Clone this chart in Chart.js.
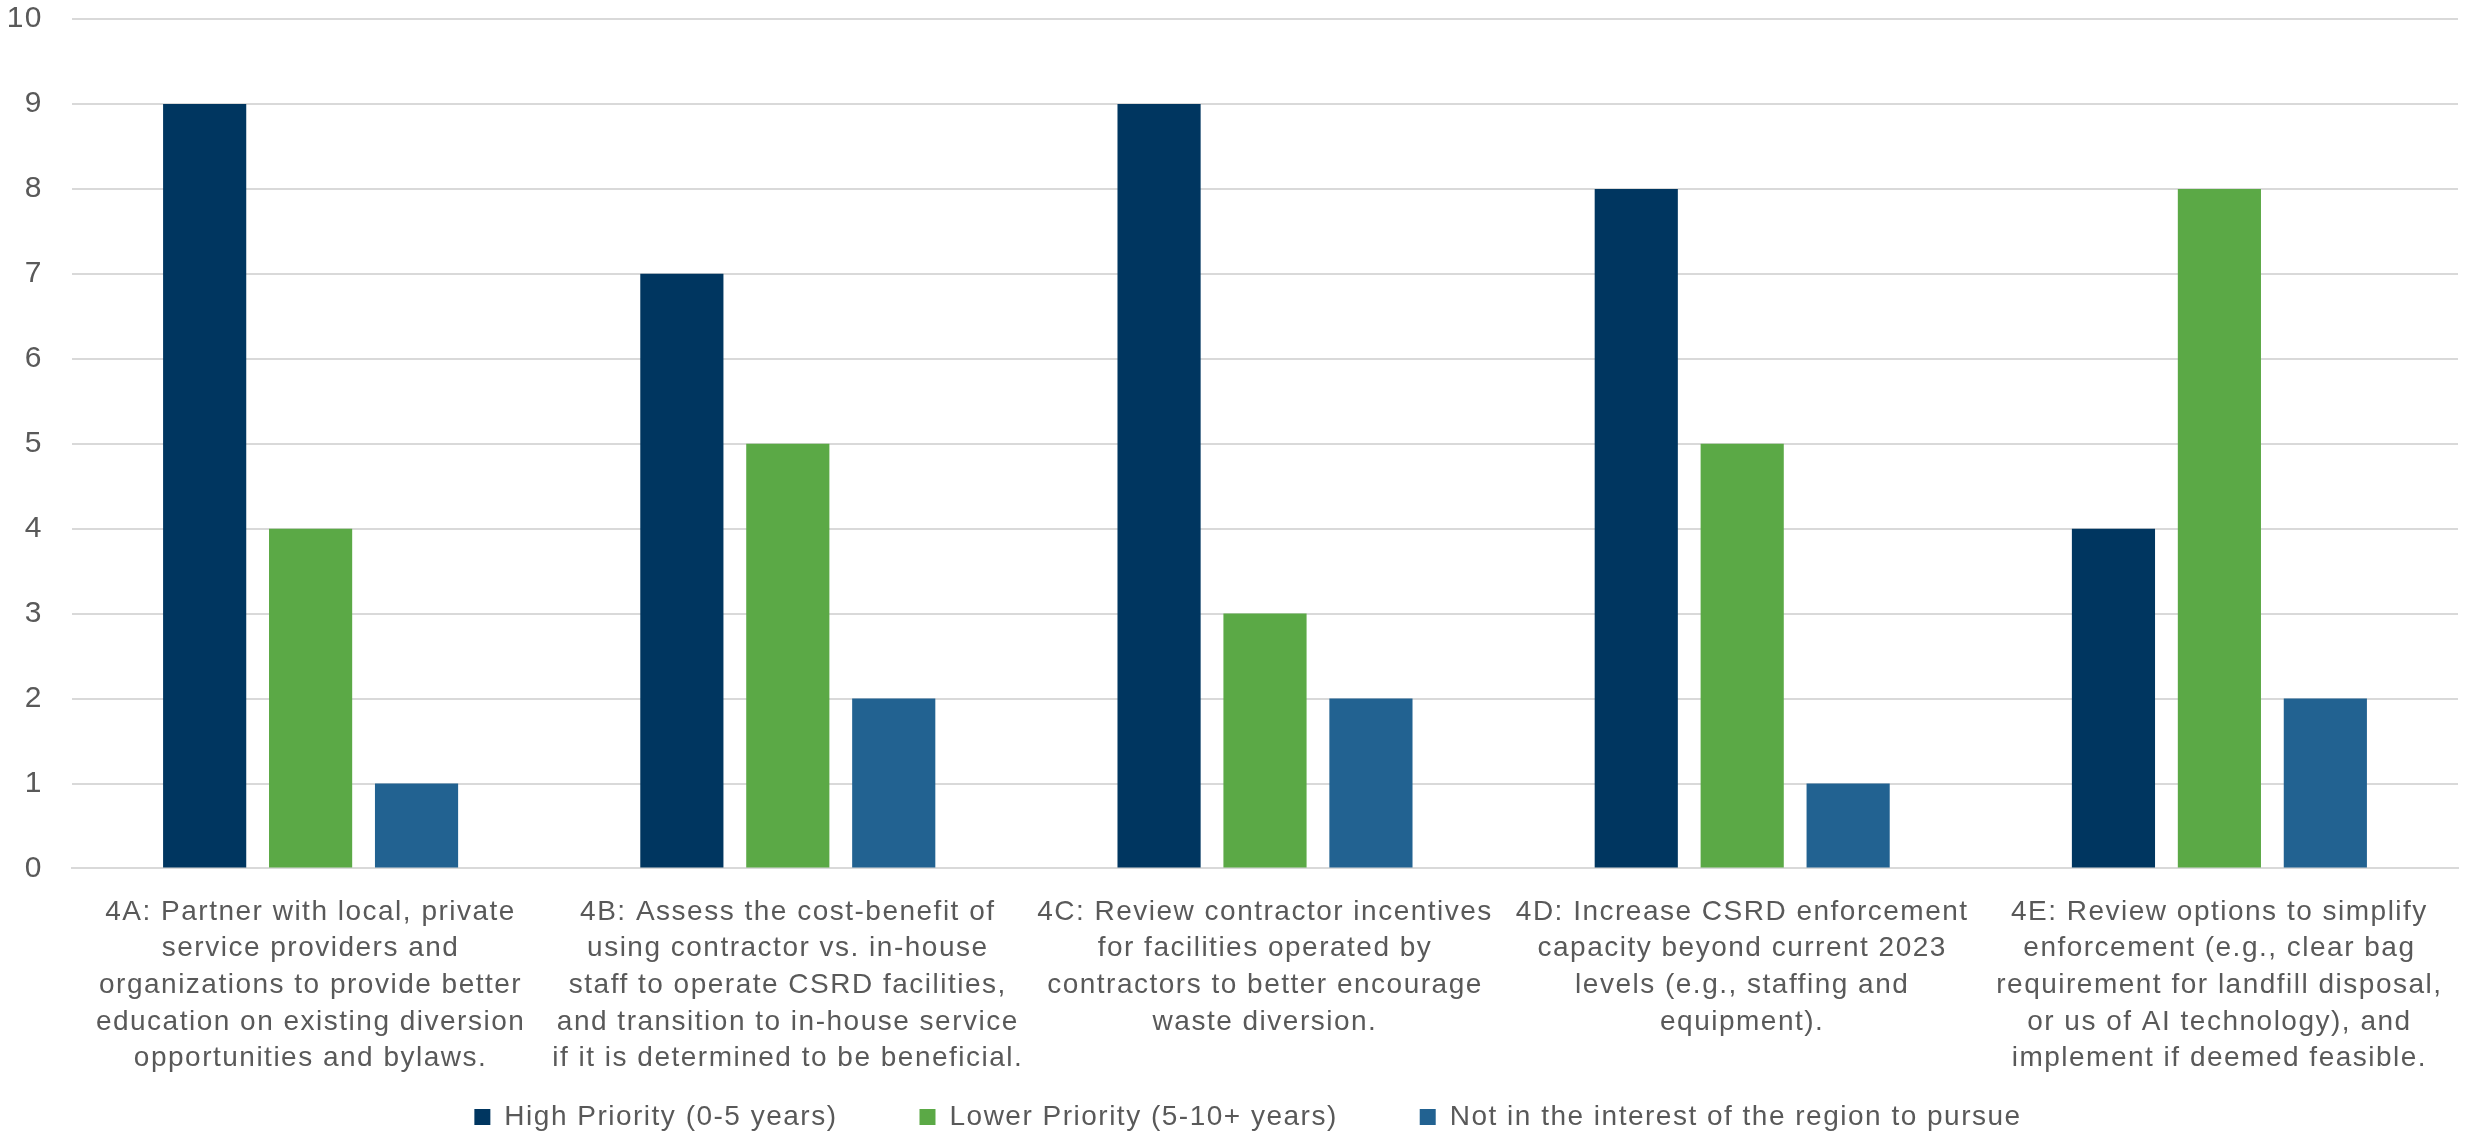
<!DOCTYPE html>
<html>
<head>
<meta charset="utf-8">
<script src="https://cdn.jsdelivr.net/npm/chart.js@4/dist/chart.umd.min.js"></script>
<style>
  html, body { margin: 0; padding: 0; background: #ffffff; }
  #wrap { width: 2466px; height: 1131px; }
</style>
</head>
<body>
<div id="wrap"><canvas id="chart" width="2466" height="1131"></canvas></div>
<script>
// Strategy actions (x-axis categories), one array of lines per action
const categories = [
  ["4A: Partner with local, private", "service providers and", "organizations to provide better", "education on existing diversion", "opportunities and bylaws."],
  ["4B: Assess the cost-benefit of", "using contractor vs. in-house", "staff to operate CSRD facilities,", "and transition to in-house service", "if it is determined to be beneficial."],
  ["4C: Review contractor incentives", "for facilities operated by", "contractors to better encourage", "waste diversion."],
  ["4D: Increase CSRD enforcement", "capacity beyond current 2023", "levels (e.g., staffing and", "equipment)."],
  ["4E: Review options to simplify", "enforcement (e.g., clear bag", "requirement for landfill disposal,", "or us of AI technology), and", "implement if deemed feasible."]
];

// Response counts per priority level
const seriesNames = [
  "High Priority (0-5 years)",
  "Lower Priority (5-10+ years)",
  "Not in the interest of the region to pursue"
];
const highPriority = [9, 7, 9, 8, 4];
const lowerPriority = [4, 5, 3, 5, 8];
const notInInterest = [1, 2, 2, 1, 2];

// Value axis
const yMin = 0;
const yMax = 10;
const yStep = 1;

const seriesColors = ["#003660", "#5BA946", "#226291"];
const textColor = "#595959";
const gridColor = "#D9D9D9";
const fontFamily = "'Liberation Sans', Arial, sans-serif";
const legendGap = 82;

// Slightly open tracking on all chart text
const textTracking = {
  id: "textTracking",
  beforeUpdate(chart) { chart.ctx.letterSpacing = "1.5px"; },
  beforeDraw(chart) { chart.ctx.letterSpacing = "1.5px"; }
};

// Legend row sits in the bottom band, just under the wrapped category labels
const legendBand = {
  id: "legendBand",
  afterLayout(chart) {
    const lg = chart.legend;
    if (!lg) return;
    const bandHeight = legendGap + 28;
    lg.top = chart.height - bandHeight;
    lg.bottom = chart.height;
    lg.height = bandHeight;
    lg.left += 17;
    lg.right += 17;
  }
};

const seriesValues = [highPriority, lowerPriority, notInInterest];

new Chart(document.getElementById("chart"), {
  type: "bar",
  data: {
    labels: categories,
    datasets: seriesValues.map((vals, i) => ({
      label: seriesNames[i],
      data: vals,
      backgroundColor: seriesColors[i],
      borderWidth: 0,
      categoryPercentage: 0.666,
      barPercentage: 0.785
    }))
  },
  plugins: [textTracking, legendBand],
  options: {
    responsive: false,
    animation: false,
    devicePixelRatio: 1,
    layout: { padding: { top: 19, left: 4, right: 8, bottom: 0 } },
    plugins: {
      tooltip: { enabled: false },
      legend: {
        position: "bottom",
        maxHeight: 37,
        labels: {
          color: textColor,
          font: { family: fontFamily, size: 28 },
          boxWidth: 16,
          boxHeight: 16,
          padding: legendGap
        }
      }
    },
    scales: {
      x: {
        grid: { display: false },
        border: { display: true, color: gridColor, width: 2 },
        ticks: {
          color: textColor,
          font: { family: fontFamily, size: 28, lineHeight: 1.311 },
          padding: 17,
          maxRotation: 0,
          minRotation: 0,
          autoSkip: false
        }
      },
      y: {
        min: yMin,
        max: yMax,
        border: { display: false },
        grid: { color: gridColor, lineWidth: 2, drawTicks: false },
        ticks: {
          stepSize: yStep,
          color: textColor,
          font: { family: fontFamily, size: 30 },
          padding: 29
        },
        afterFit(scale) {
          scale.width = 68;
          // top/bottom tick labels may overhang the plot edges
          scale.paddingTop = 0;
          scale.paddingBottom = 0;
        }
      }
    }
  }
});
</script>
</body>
</html>
